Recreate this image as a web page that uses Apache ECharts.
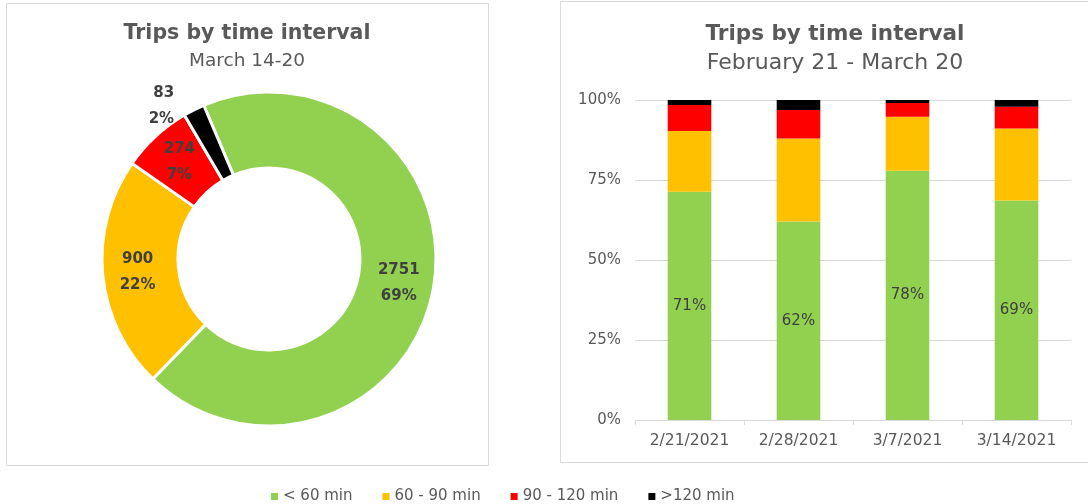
<!DOCTYPE html>
<html>
<head>
<meta charset="utf-8">
<script src="https://cdn.jsdelivr.net/npm/echarts@6/dist/echarts.min.js"></script>
<style>
  html, body { margin: 0; padding: 0; background: #fff; }
  #main { width: 1088px; height: 504px; }
</style>
</head>
<body>
<div id="main"></div>
<script>
// categories
var seriesNames = ['< 60 min', '60 - 90 min', '90 - 120 min', '>120 min'];
var weeks = ['2/21/2021', '2/28/2021', '3/7/2021', '3/14/2021'];
var colors = ['#92D050', '#FFC000', '#FF0000', '#000000'];

// donut (March 14-20), trip counts
var weekCounts = [2751, 900, 274, 83];

// stacked bars, share of trips in %
var lt60 = [71.3, 62.0, 77.9, 68.6];
var m60to90 = [19.0, 26.0, 16.9, 22.5];
var m90to120 = [8.1, 8.9, 4.3, 6.8];
var gt120 = [1.6, 3.1, 0.9, 2.1];

var yTicks = [0, 25, 50, 75, 100];

var FONT = "'DejaVu Sans', sans-serif";
var TXT = '#595959';

var chart = echarts.init(document.getElementById('main'), null, { renderer: 'canvas' });

var barData = [lt60, m60to90, m90to120, gt120];
var barSeries = seriesNames.map(function (n, i) {
  return {
    name: n,
    type: 'bar',
    stack: 'share',
    barWidth: '40%',
    data: barData[i],
    itemStyle: { color: colors[i] },
    label: i === 0 ? {
      show: true,
      position: 'inside',
      color: '#404040',
      fontFamily: FONT,
      fontSize: 15,
      formatter: function (p) { return Math.round(p.value) + '%'; }
    } : { show: false }
  };
});

var pieData = seriesNames.map(function (n, i) {
  var d = { name: n, value: weekCounts[i], itemStyle: { color: colors[i] } };
  if (i === 3) {
    d.label = { position: 'outside', align: 'center', offset: [-13, 0] };
    d.labelLine = { show: false, length: 4, length2: 0 };
  }
  return d;
});

var option = {
  animation: false,
  textStyle: { fontFamily: FONT },
  title: [
    {
      text: 'Trips by time interval', subtext: 'March 14-20',
      left: 242, top: 18, textAlign: 'center', itemGap: 8,
      textStyle: { fontFamily: FONT, fontSize: 20.5, fontWeight: 'bold', color: TXT },
      subtextStyle: { fontFamily: FONT, fontSize: 18.5, color: TXT }
    },
    {
      text: 'Trips by time interval', subtext: 'February 21 - March 20',
      left: 830, top: 18, textAlign: 'center', itemGap: 7,
      textStyle: { fontFamily: FONT, fontSize: 21.5, fontWeight: 'bold', color: TXT },
      subtextStyle: { fontFamily: FONT, fontSize: 22, color: TXT }
    }
  ],
  legend: {
    top: 484, left: 266,
    icon: 'rect', itemWidth: 7, itemHeight: 7, itemGap: 30,
    data: seriesNames,
    textStyle: { fontFamily: FONT, fontSize: 15, color: TXT }
  },
  graphic: [
    { type: 'rect', shape: { x: 6.5, y: 3.5, width: 482, height: 462 },
      style: { fill: 'none', stroke: '#D9D9D9', lineWidth: 1 }, silent: true },
    { type: 'rect', shape: { x: 560.5, y: 1.5, width: 540, height: 461 },
      style: { fill: 'none', stroke: '#D9D9D9', lineWidth: 1 }, silent: true }
  ],
  grid: { left: 635, right: 17, top: 100, bottom: 84 },
  xAxis: {
    type: 'category',
    data: weeks,
    axisLine: { lineStyle: { color: '#D9D9D9' } },
    axisTick: { show: true, length: 5, lineStyle: { color: '#D9D9D9' } },
    axisLabel: { color: TXT, fontFamily: FONT, fontSize: 15.5, margin: 13 }
  },
  yAxis: {
    type: 'value', min: yTicks[0], max: yTicks[yTicks.length - 1], interval: 25,
    axisLine: { show: false }, axisTick: { show: false },
    splitLine: { lineStyle: { color: '#D9D9D9' } },
    axisLabel: { color: TXT, fontFamily: FONT, fontSize: 15, margin: 14, formatter: '{value}%' }
  },
  series: [{
    name: 'March 14-20',
    type: 'pie',
    center: [269, 259],
    radius: [91, 167],
    startAngle: 113,
    clockwise: true,
    percentPrecision: 0,
    avoidLabelOverlap: false,
    itemStyle: { borderColor: '#fff', borderWidth: 3 },
    label: {
      show: true, position: 'inside',
      formatter: '{c}\n{d}%',
      fontFamily: FONT, fontSize: 15, fontWeight: 'bold', color: '#404040', lineHeight: 26
    },
    labelLine: { show: false },
    data: pieData
  }].concat(barSeries)
};

chart.setOption(option);
</script>
</body>
</html>
